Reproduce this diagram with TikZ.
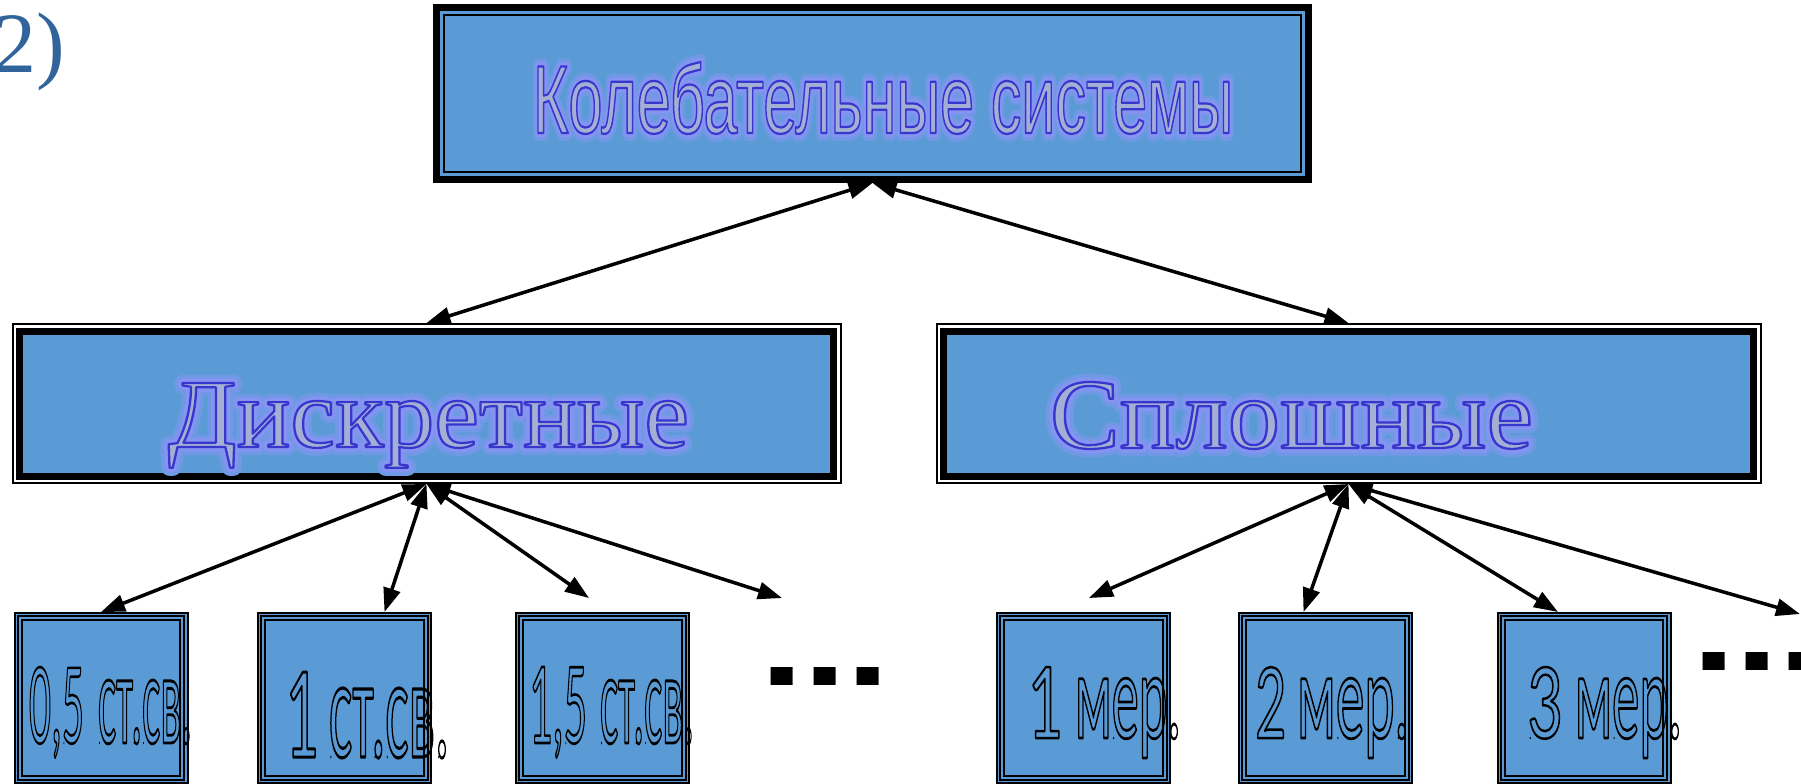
\documentclass[tikz,border=0pt]{standalone}
\usepackage{fontspec}
\usepackage{graphicx}
\usetikzlibrary{arrows.meta,calc}
\newfontfamily\sansf{Liberation Sans}
\newfontfamily\seriff{Liberation Serif}
\newfontfamily\calf{Carlito}
\definecolor{boxblue}{RGB}{91,155,213}
\definecolor{txtfill}{RGB}{163,175,212}
\definecolor{numblue}{RGB}{50,100,156}
\newcommand\fillstroke[3]{\special{pdf:literal direct 2 Tr 1 j 1 J #1 w #2 RG}#3\special{pdf:literal direct 0 Tr}}
\newcommand\strokeonly[3]{\special{pdf:literal direct 1 Tr 1 j 1 J #1 w #2 RG}#3\special{pdf:literal direct 0 Tr}}
\def\outlinergb{0.216 0.216 0.804}
\def\glowrgb{0.52 0.58 0.94}
\def\glowwide{0.44 0.60 0.90}
% hollow label: digits (width, height), gap, letters (width, height)
\newcommand\hollow[7]{{\calf\fontsize{115pt}{120pt}\selectfont
  \resizebox{#2}{#3}{\strokeonly{2.6}{0 0 0}{#1}}\hspace*{#4}\resizebox{#6}{#7}{\strokeonly{2.6}{0 0 0}{#5}}}}
\begin{document}
\begin{tikzpicture}[x=1pt,y=-1pt,
  topbox/.style={draw=black, line width=7pt, fill=boxblue, minimum width=872pt, minimum height=172pt, inner sep=0pt},
  midbox/.style={draw=black, line width=7pt, fill=boxblue, minimum height=145pt, inner sep=0pt, outer sep=8pt},
  smallbox/.style={draw=black, line width=2pt, fill=boxblue, minimum width=173pt, minimum height=170pt, inner sep=0pt},
  txt/.style={inner sep=0pt, outer sep=0pt, anchor=base west},
  conn/.style={line width=3.5pt, >={Triangle[length=24pt,width=17pt]}, <->},
  frame/.style={draw=black, line width=2pt}]
\fill[white] (0,0) rectangle (1801,784);
\useasboundingbox (0,0) rectangle (1801,784);

% "2)"
\node[txt] (n2) at (-6,73) {\color{numblue}\seriff\fontsize{86pt}{90pt}\selectfont 2)};

% top box
\node[topbox] (top) at (872.5,93.5) {};
\draw[frame] ([shift={(11pt,-11pt)}]top.north west) rectangle ([shift={(-11pt,11pt)}]top.south east);

% middle boxes
\node[midbox, minimum width=814pt] (d) at (426.5,403.5) {};
\draw[frame] ([shift={(1pt,-1pt)}]d.north west) rectangle ([shift={(-1pt,1pt)}]d.south east);
\node[midbox, minimum width=810pt] (s) at (1348.5,403.5) {};
\draw[frame] ([shift={(1pt,-1pt)}]s.north west) rectangle ([shift={(-1pt,1pt)}]s.south east);

% small boxes
\node[smallbox] (b1) at (101,698) {};
\node[smallbox] (b2) at (344.5,698) {};
\node[smallbox] (b3) at (602.5,698) {};
\node[smallbox] (b4) at (1083.5,698) {};
\node[smallbox] (b5) at (1325.5,698) {};
\node[smallbox] (b6) at (1584,698) {};
\foreach \b in {b1,b2,b3,b4,b5,b6}{
  \draw[line width=1.8pt] ([shift={(4.3pt,-4.3pt)}]\b.north west) rectangle ([shift={(-4.3pt,4.3pt)}]\b.south east);
  \draw[line width=2pt] ([shift={(8.3pt,-8.3pt)}]\b.north west) rectangle ([shift={(-8.3pt,8.3pt)}]\b.south east);
}

% headings (glow layers under outlined text)
\node[txt] (kw) at (533,133) {\color{txtfill}\sansf\fontsize{96pt}{100pt}\selectfont\resizebox{700pt}{71pt}{\strokeonly{16}{\glowwide}{Колебательные системы}}};
\node[txt] (kg) at (533,133) {\color{txtfill}\sansf\fontsize{96pt}{100pt}\selectfont\resizebox{700pt}{71pt}{\strokeonly{9}{\glowrgb}{Колебательные системы}}};
\node[txt] (k) at (533,133) {\color{txtfill}\sansf\fontsize{96pt}{100pt}\selectfont\resizebox{700pt}{71pt}{\fillstroke{2.2}{\outlinergb}{Колебательные системы}}};

\node[txt] (dw) at (168,447) {\color{txtfill}\seriff\fontsize{97pt}{100pt}\selectfont\resizebox{521pt}{64pt}{\strokeonly{16}{\glowwide}{Дискретные}}};
\node[txt] (dg) at (168,447) {\color{txtfill}\seriff\fontsize{97pt}{100pt}\selectfont\resizebox{521pt}{64pt}{\strokeonly{9}{\glowrgb}{Дискретные}}};
\node[txt] (dt) at (168,447) {\color{txtfill}\seriff\fontsize{97pt}{100pt}\selectfont\resizebox{521pt}{64pt}{\fillstroke{2.2}{\outlinergb}{Дискретные}}};

\node[txt] (sw) at (1050,448) {\color{txtfill}\seriff\fontsize{97pt}{100pt}\selectfont\resizebox{483pt}{66pt}{\strokeonly{16}{\glowwide}{Сплошные}}};
\node[txt] (sg) at (1050,448) {\color{txtfill}\seriff\fontsize{97pt}{100pt}\selectfont\resizebox{483pt}{66pt}{\strokeonly{9}{\glowrgb}{Сплошные}}};
\node[txt] (st) at (1050,448) {\color{txtfill}\seriff\fontsize{97pt}{100pt}\selectfont\resizebox{483pt}{66pt}{\fillstroke{2.2}{\outlinergb}{Сплошные}}};

% small box texts (hollow)
\node[txt] (t1) at (29,743) {\hollow{0,5}{55pt}{76pt}{14pt}{ст.св.}{94pt}{63pt}};
\node[txt] (t2) at (285,757) {\hollow{1}{33pt}{85pt}{11pt}{ст.св.}{120pt}{69pt}};
\node[txt] (t3) at (529,743) {\hollow{1,5}{58pt}{76pt}{13pt}{ст.св.}{94pt}{63pt}};
\node[txt] (t4) at (1027,738) {\hollow{1}{35pt}{71pt}{13pt}{мер.}{106pt}{60pt}};
\node[txt] (t5) at (1255,738) {\hollow{2}{31pt}{71pt}{11pt}{мер.}{112pt}{60pt}};
\node[txt] (t6) at (1527,738) {\hollow{3}{35pt}{71pt}{13pt}{мер.}{107pt}{60pt}};

% ellipses
\node[txt] (dots1) at (760,685) {\sansf\bfseries\resizebox{130pt}{18pt}{...}};
\node[txt] (dots2) at (1692,670) {\sansf\bfseries\resizebox{130pt}{18pt}{...}};

% connectors
\coordinate (e3) at (589,598);
\coordinate (e4) at (782,598);
\coordinate (e5) at (1089,598);
\coordinate (e8) at (1800,614);
\draw[conn] (top.south) -- (d.north);
\draw[conn] (top.south) -- (s.north);
\draw[conn] (d.south) -- (b1.north);
\draw[conn] (d.south) -- ([xshift=40pt]b2.north);
\draw[conn] (d.south) -- (e3);
\draw[conn] (d.south) -- (e4);
\draw[conn] (s.south) -- (e5);
\draw[conn] (s.south) -- ([xshift=-22pt]b5.north);
\draw[conn] (s.south) -- ([xshift=-26pt]b6.north);
\draw[conn] (s.south) -- (e8);
\end{tikzpicture}
\end{document}
